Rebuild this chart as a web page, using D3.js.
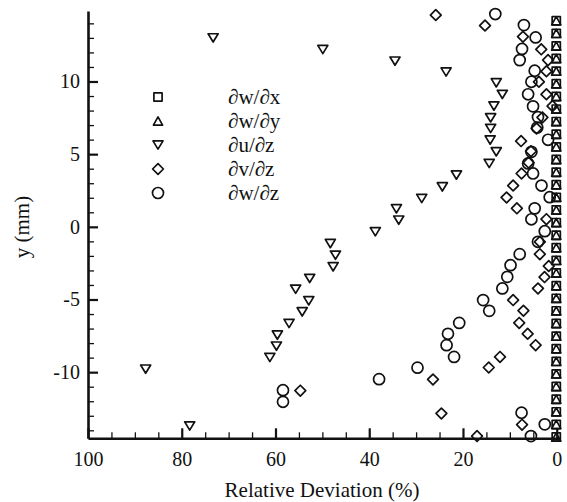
<!DOCTYPE html>
<html>
<head>
<meta charset="utf-8">
<script src="https://cdn.jsdelivr.net/npm/d3@7"></script>
<style>
  body { margin: 0; background: #fff; }
  svg { display: block; }
  text { font-family: "Liberation Serif", "Times New Roman", serif; fill: #111; }
</style>
</head>
<body>
<svg id="chart" width="567" height="502"></svg>
<script>
// Relative deviation (%) of each velocity-gradient component along y (mm)
const seriesNames = ["\u2202w/\u2202x", "\u2202w/\u2202y", "\u2202u/\u2202z", "\u2202v/\u2202z", "\u2202w/\u2202z"];

const dwdxY = [14.18, 13.31, 12.44, 11.58, 10.71, 9.84, 8.97, 8.10, 7.24, 6.37, 5.50, 4.63, 3.76, 2.90, 2.03, 1.16, 0.29,
  -0.58, -1.44, -2.31, -3.18, -4.05, -4.92, -5.78, -6.65, -7.52, -8.39, -9.26, -10.12, -10.99, -11.86, -12.73, -13.60, -14.46];
const dwdxX = [0.1, 0.1, 0.1, 0.1, 0.1, 0.1, 0.1, 0.1, 0.1, 0.1, 0.1, 0.1, 0.1, 0.1, 0.1, 0.1, 0.1,
  0.1, 0.1, 0.1, 0.1, 0.1, 0.1, 0.1, 0.1, 0.1, 0.1, 0.1, 0.1, 0.1, 0.1, 0.1, 0.1, 0.1];

const dwdyY = [14.18, 13.31, 12.44, 11.58, 10.71, 9.84, 8.97, 8.10, 7.24, 6.37, 5.50, 4.63, 3.76, 2.90, 2.03, 1.16, 0.29,
  -0.58, -1.44, -2.31, -3.18, -4.05, -4.92, -5.78, -6.65, -7.52, -8.39, -9.26, -10.12, -10.99, -11.86, -12.73, -13.60, -14.46];
const dwdyX = [0.1, 0.1, 0.1, 0.1, 0.1, 0.1, 0.1, 0.1, 0.1, 0.1, 0.1, 0.1, 0.1, 0.1, 0.1, 0.1, 0.1,
  0.1, 0.1, 0.1, 0.1, 0.1, 0.1, 0.1, 0.1, 0.1, 0.1, 0.1, 0.1, 0.1, 0.1, 0.1, 0.1, 0.1];

const dudzX = [73.3, 49.9, 34.5, 23.6, 12.9, 11.6, 13.4, 14.1, 14.1, 14.2, 12.9, 14.4, 21.4, 24.4, 28.8, 34.2,
  33.7, 38.7, 48.3, 47.2, 47.7, 52.7, 55.7, 52.9, 54.3, 57.1, 59.6, 59.8, 61.2, 87.7, 78.3];
const dudzY = [13.0, 12.2, 11.4, 10.65, 9.91, 9.11, 8.31, 7.50, 6.77, 5.97, 5.16, 4.36, 3.56, 2.75, 1.95, 1.24,
  0.46, -0.34, -1.15, -1.95, -2.75, -3.55, -4.29, -5.09, -5.85, -6.65, -7.45, -8.21, -8.99, -9.79, -13.7];

const dvdzX = [25.8, 15.3, 7.2, 3.3, 1.85, 2.2, 3.8, 2.2, 0.9, 3.05, 4.3, 7.6, 5.5, 6.0, 7.5, 9.3, 10.7, 8.5, 2.2,
  3.6, 3.6, 1.7, 2.6, 4.0, 9.3, 7.1, 8.0, 6.2, 4.5, 12.1, 14.5, 26.4, 54.7, 24.6, 7.4, 17.0];
const dvdzY = [14.57, 13.85, 13.08, 12.21, 11.47, 10.70, 9.98, 9.12, 8.31, 7.53, 6.77, 5.90, 5.20, 4.42, 3.67, 2.84, 2.02, 1.27, 0.53,
  -1.03, -1.88, -2.70, -3.46, -4.24, -5.04, -5.77, -6.61, -7.36, -8.14, -8.95, -9.68, -10.50, -11.27, -12.84, -13.61, -14.40];

const dwdzX = [13.1, 7.0, 4.5, 7.4, 7.9, 4.7, 5.4, 6.1, 5.05, 4.0, 4.15, 1.85, 5.4, 6.1, 5.05, 3.25, 1.5, 4.7, 5.4,
  2.55, 4.0, 7.9, 9.85, 10.55, 11.6, 15.7, 14.4, 20.8, 23.2, 23.5, 21.9, 29.7, 37.9, 58.4, 58.4, 7.5, 2.55, 5.5];
const dwdzY = [14.64, 13.88, 13.03, 12.24, 11.47, 10.74, 9.98, 9.12, 8.29, 7.55, 6.83, 5.99, 5.16, 4.36, 3.67, 2.84, 2.04, 1.27, 0.52,
  -0.30, -1.03, -1.88, -2.64, -3.44, -4.24, -5.04, -5.78, -6.61, -7.36, -8.14, -8.95, -9.69, -10.48, -11.24, -12.04, -12.79, -13.59, -14.40];

const xMajorTicks = [100, 80, 60, 40, 20, 0];
const xMinorTicks = [95, 90, 85, 75, 70, 65, 55, 50, 45, 35, 30, 25, 15, 10, 5];
const yMajorTicks = [-10, -5, 0, 5, 10];
const yMinorTicks = [-14, -13, -12, -11, -9, -8, -7, -6, -4, -3, -2, -1, 1, 2, 3, 4, 6, 7, 8, 9, 11, 12, 13, 14];

const serif = "'Liberation Serif', 'Times New Roman', serif";
const svg = d3.select("#chart");

// Plot frame (reversed x: 100 on the left, 0 on the right)
const plotLeft = 88, plotRight = 560, plotTop = 11, plotBottom = 438.3;
const x = d3.scaleLinear().domain([100, -0.7]).range([plotLeft, plotRight]);
const y = d3.scaleLinear().domain([-14.55, 14.85]).range([plotBottom, plotTop]);

// Marker shapes
const shapes = {
  square: s => { const h = s / 2; return `M${-h},${-h}H${h}V${h}H${-h}Z`; },
  triUp: s => { const w = s * 0.56, h = s * 0.5; return `M0,${-h}L${w},${h}H${-w}Z`; },
  triDown: s => { const w = s * 0.56, h = s * 0.46; return `M${-w},${-h}H${w}L0,${h}Z`; },
  diamond: s => { const h = s * 0.6; return `M0,${-h}L${h},0L0,${h}L${-h},0Z`; },
  circle: s => { const r = s * 0.6; return `M${r},0A${r},${r} 0 1,1 ${-r},0A${r},${r} 0 1,1 ${r},0Z`; }
};

const series = [
  { name: seriesNames[0], xs: dwdxX, ys: dwdxY, shape: "square", size: 8.2 },
  { name: seriesNames[1], xs: dwdyX, ys: dwdyY, shape: "triUp", size: 8.2 },
  { name: seriesNames[2], xs: dudzX, ys: dudzY, shape: "triDown", size: 9 },
  { name: seriesNames[3], xs: dvdzX, ys: dvdzY, shape: "diamond", size: 9 },
  { name: seriesNames[4], xs: dwdzX, ys: dwdzY, shape: "circle", size: 9.2 }
];

const marks = svg.append("g").attr("class", "marks");
series.forEach(s => {
  const pts = s.xs.map((v, i) => ({ x: v, y: s.ys[i] }));
  marks.append("g")
    .selectAll("path")
    .data(pts)
    .join("path")
    .attr("transform", d => `translate(${x(d.x)},${y(d.y)})`)
    .attr("d", shapes[s.shape](s.size))
    .attr("fill", "none")
    .attr("stroke", "#111")
    .attr("stroke-width", 1.7)
    .attr("stroke-linejoin", "round");
});

// Axes: ticks point inward, plain hyphen for negative labels
const plainLabel = d => String(d);
const axisStyle = g => {
  g.attr("font-family", serif);
  g.select(".domain").attr("stroke", "#111").attr("stroke-width", 2.6);
  g.selectAll(".tick line").attr("stroke", "#111").attr("stroke-width", 1.3);
  g.selectAll("text").style("font-size", "20px").style("font-family", serif).attr("fill", "#111");
};

svg.append("g")
  .attr("transform", `translate(0,${plotBottom})`)
  .call(d3.axisBottom(x).tickValues(xMinorTicks).tickSize(-6).tickSizeOuter(0).tickFormat(""))
  .call(g => g.select(".domain").remove())
  .call(axisStyle);

svg.append("g")
  .attr("transform", `translate(0,${plotBottom})`)
  .call(d3.axisBottom(x).tickValues(xMajorTicks).tickSize(-10).tickSizeOuter(0).tickPadding(14).tickFormat(plainLabel))
  .call(axisStyle)
  .call(g => g.selectAll(".tick line").attr("stroke-width", 2.2));

svg.append("g")
  .attr("transform", `translate(${plotLeft},0)`)
  .call(d3.axisLeft(y).tickValues(yMinorTicks).tickSize(-6).tickSizeOuter(0).tickFormat(""))
  .call(g => g.select(".domain").remove())
  .call(axisStyle);

svg.append("g")
  .attr("transform", `translate(${plotLeft},0)`)
  .call(d3.axisLeft(y).tickValues(yMajorTicks).tickSize(-10).tickSizeOuter(0).tickPadding(8).tickFormat(plainLabel))
  .call(axisStyle)
  .call(g => g.selectAll(".tick line").attr("stroke-width", 2.2));

// Axis titles
svg.append("text")
  .attr("x", (plotLeft + plotRight) / 2 - 2)
  .attr("y", 497)
  .attr("text-anchor", "middle")
  .style("font-size", "21px")
  .text("Relative Deviation (%)");

svg.append("text")
  .attr("transform", "translate(29,227) rotate(-90)")
  .attr("text-anchor", "middle")
  .style("font-size", "21px")
  .text("y (mm)");

// Legend
const legend = svg.append("g").attr("transform", "translate(158,97)");
series.forEach((s, i) => {
  const row = legend.append("g").attr("transform", `translate(0,${i * 24})`);
  row.append("path")
    .attr("d", shapes[s.shape](s.size))
    .attr("fill", "none")
    .attr("stroke", "#111")
    .attr("stroke-width", 1.7)
    .attr("stroke-linejoin", "round");
  row.append("text")
    .attr("x", 70)
    .attr("y", 7)
    .style("font-size", "21px")
    .text(s.name);
});
</script>
</body>
</html>
